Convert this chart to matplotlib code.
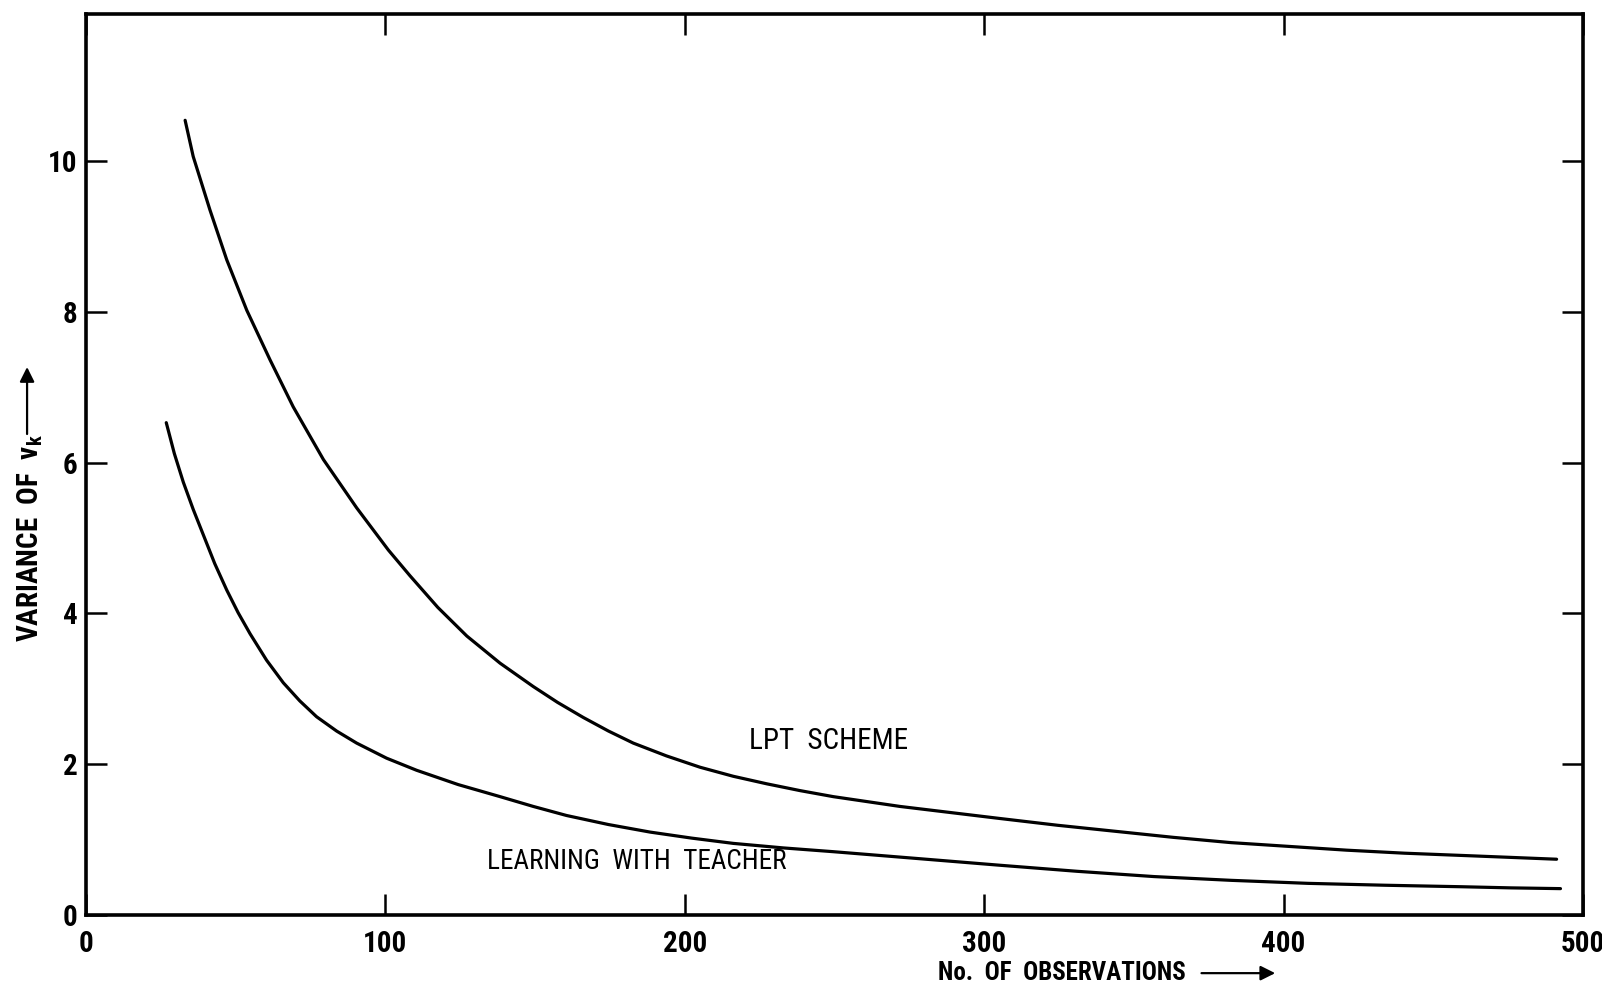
import matplotlib
matplotlib.use("Agg")
import matplotlib.pyplot as plt

# curve readings (no. of observations, variance of v_k)
lpt_obs = [33.1, 35.8, 41.4, 47.0, 53.7, 61.5, 69.2, 79.3, 90.4, 101.0,
           108.2, 117.5, 127.2, 138.3, 149.4, 157.5, 166.1, 174.5, 182.8,
           193.9, 205.1, 216.2, 227.4, 238.5, 249.6, 271.9, 288.6, 305.3,
           324.6, 343.9, 363.2, 382.5, 401.8, 421.1, 440.4, 459.7, 475.5, 491.2]
lpt_var = [10.54, 10.06, 9.35, 8.69, 8.02, 7.36, 6.74, 6.04, 5.40, 4.84,
           4.50, 4.08, 3.70, 3.34, 3.03, 2.82, 2.62, 2.44, 2.28,
           2.11, 1.96, 1.84, 1.74, 1.65, 1.57, 1.44, 1.36, 1.28,
           1.19, 1.11, 1.03, 0.96, 0.91, 0.86, 0.82, 0.79, 0.765, 0.74]

teach_obs = [26.8, 29.5, 32.5, 35.8, 39.2, 43.0, 47.0, 50.8, 54.8, 60.3,
             65.9, 71.4, 77.0, 83.7, 90.4, 100.4, 110.4, 124.3, 138.3, 149.4,
             160.5, 174.5, 188.4, 202.3, 216.2, 232.9, 249.6, 277.5, 305.3,
             331.0, 356.7, 382.5, 408.2, 433.9, 459.6, 476.0, 492.5]
teach_var = [6.53, 6.12, 5.74, 5.38, 5.04, 4.66, 4.31, 4.01, 3.73, 3.38,
             3.08, 2.84, 2.63, 2.44, 2.28, 2.08, 1.92, 1.73, 1.57, 1.44,
             1.32, 1.20, 1.10, 1.02, 0.95, 0.89, 0.84, 0.75, 0.66,
             0.58, 0.51, 0.46, 0.42, 0.395, 0.375, 0.36, 0.35]

xticks = [0, 100, 200, 300, 400, 500]
yticks = [0, 2, 4, 6, 8, 10]

fams = ['DejaVu Sans Condensed', 'Roboto Condensed', 'Liberation Sans Narrow', 'DejaVu Sans']
plt.rcParams['font.family'] = fams

fig = plt.figure(figsize=(16.02, 9.92), dpi=100)
ax = fig.add_axes([0.0537, 0.0776, 0.9344, 0.9083])

ax.plot(lpt_obs, lpt_var, color='black', lw=2.3, solid_capstyle='round', solid_joinstyle='round')
ax.plot(teach_obs, teach_var, color='black', lw=2.3, solid_capstyle='round', solid_joinstyle='round')

ax.set_xlim(0, 500)
ax.set_ylim(0, 11.95)
ax.set_xticks(xticks)
ax.set_yticks(yticks)
ax.tick_params(direction='in', length=15, width=1.8, labelsize=21,
               top=True, right=True, pad=6)
ax.tick_params(axis='x', pad=11)
for lab in ax.get_xticklabels() + ax.get_yticklabels():
    lab.set_fontweight('bold')
for s in ax.spines.values():
    s.set_linewidth(2.6)

ax.text(248, 2.31, "LPT  SCHEME", fontsize=21, ha='center', va='center')
ax.text(184, 0.71, "LEARNING  WITH  TEACHER", fontsize=19.5, ha='center', va='center')

# x axis title with arrow
fig.text(0.5855, 0.019, "No.  OF  OBSERVATIONS", fontsize=18, fontweight='bold',
         ha='left', va='center')
fig.add_artist(plt.Annotation("", xy=(0.796, 0.019), xytext=(0.750, 0.019),
                              xycoords='figure fraction',
                              arrowprops=dict(arrowstyle='-|>', color='black', lw=1.6,
                                              mutation_scale=22, shrinkA=0, shrinkB=0)))

# y axis title with arrow
fig.text(0.019, 0.3528, "VARIANCE  OF  $\\mathregular{v_k}$", fontsize=21,
         fontweight='bold', rotation=90, ha='center', va='bottom')
fig.add_artist(plt.Annotation("", xy=(0.0169, 0.630), xytext=(0.0169, 0.5625),
                              xycoords='figure fraction',
                              arrowprops=dict(arrowstyle='-|>', color='black', lw=1.6,
                                              mutation_scale=22, shrinkA=0, shrinkB=0)))

fig.savefig("out.png", dpi=100)
